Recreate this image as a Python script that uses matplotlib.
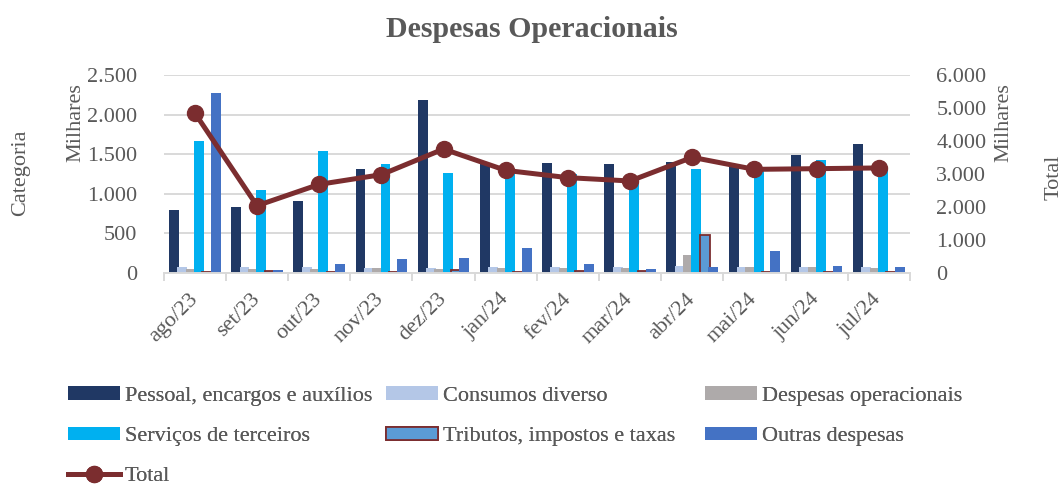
import numpy as np
import matplotlib.pyplot as plt
from matplotlib.ticker import FuncFormatter, FixedLocator
from matplotlib.lines import Line2D

# values in thousands (Milhares)
months = ["ago/23", "set/23", "out/23", "nov/23", "dez/23", "jan/24",
          "fev/24", "mar/24", "abr/24", "mai/24", "jun/24", "jul/24"]
pessoal = [800, 827, 903, 1318, 2192, 1390, 1394, 1377, 1400, 1380, 1495, 1630]
consumos = [76, 67, 76, 63, 55, 76, 67, 67, 80, 67, 67, 72]
desp_oper = [50, 42, 50, 55, 42, 55, 55, 55, 224, 67, 67, 55]
servicos = [1672, 1047, 1541, 1372, 1267, 1265, 1250, 1200, 1309, 1320, 1432, 1330]
tributos = [10, 25, 15, 15, 30, 15, 20, 20, 473, 5, 8, 15]
outras = [2272, 30, 109, 172, 185, 313, 105, 46, 67, 274, 92, 76]
total = [4853, 2037, 2684, 2979, 3757, 3110, 2888, 2787, 3505, 3140, 3161, 3183]

series = [
    ("Pessoal, encargos e auxílios", pessoal, "#203864", None),
    ("Consumos diverso", consumos, "#B4C7E7", None),
    ("Despesas operacionais", desp_oper, "#AEAAAA", None),
    ("Serviços de terceiros", servicos, "#00B0F0", None),
    ("Tributos, impostos e taxas", tributos, "#5B9BD5", "#7B2D2F"),
    ("Outras despesas", outras, "#4472C4", None),
]

FONT = "Liberation Serif"
GRAY = "#595959"
FS = 16
plt.rcParams["font.family"] = [FONT, "DejaVu Serif"]

fig = plt.figure(figsize=(10.63, 4.88), dpi=100)
ax = fig.add_axes([0.154, 0.441, 0.702, 0.405])

x = np.arange(len(months))
step = 0.134
width = 0.16
bars = []
for i, (name, vals, col, edge) in enumerate(series):
    off = (i - 2.5) * step
    if edge:
        b = ax.bar(x + off, vals, width, color=col, edgecolor=edge, linewidth=1.3, label=name, zorder=2)
    else:
        b = ax.bar(x + off, vals, width, color=col, label=name, zorder=2)
    bars.append(b)

ax.set_xlim(-0.5, len(months) - 0.5)
ax.set_ylim(0, 2500)
ax.set_yticks(range(0, 2501, 500))
fmt = FuncFormatter(lambda v, p: f"{int(v):,}".replace(",", "."))
ax.yaxis.set_major_formatter(fmt)
ax.grid(axis="y", color="#D9D9D9", linewidth=1.4, zorder=0)
ax.set_axisbelow(True)
for s in ["top", "right", "left"]:
    ax.spines[s].set_visible(False)
ax.spines["bottom"].set_color("#D9D9D9")
ax.spines["bottom"].set_linewidth(1.4)
ax.tick_params(axis="y", length=0, pad=19, labelsize=FS, labelcolor=GRAY)

ax.xaxis.set_major_locator(FixedLocator(np.arange(-0.5, len(months), 1.0)))
ax.xaxis.set_minor_locator(FixedLocator(x))
ax.set_xticklabels([], minor=False)
ax.set_xticklabels(months, minor=True, rotation=45, ha="right", va="center",
                   rotation_mode="anchor")
ax.tick_params(axis="x", which="major", length=6, width=1.4, color="#D9D9D9")
ax.tick_params(axis="x", which="minor", length=0, pad=17, labelsize=FS, labelcolor=GRAY)

ax2 = ax.twinx()
ax2.set_ylim(0, 6000)
ax2.set_yticks(range(0, 6001, 1000))
ax2.yaxis.set_major_formatter(fmt)
for s in ax2.spines.values():
    s.set_visible(False)
ax2.tick_params(axis="y", length=0, pad=19, labelsize=FS, labelcolor=GRAY)
line, = ax2.plot(x, total, color="#7B2D2F", linewidth=3.6, marker="o",
                 markersize=11.5, label="Total", zorder=3)

fig.text(0.5, 0.94, "Despesas Operacionais", ha="center", va="center",
         fontsize=21.5, fontweight="bold", color=GRAY)
fig.text(0.071, 0.748, "Milhares", rotation=90, ha="center", va="center", fontsize=FS, color=GRAY)
fig.text(0.019, 0.645, "Categoria", rotation=90, ha="center", va="center", fontsize=FS, color=GRAY)
fig.text(0.944, 0.748, "Milhares", rotation=90, ha="center", va="center", fontsize=FS, color=GRAY)
fig.text(0.992, 0.637, "Total", rotation=90, ha="center", va="center", fontsize=FS, color=GRAY)

tot_handle = Line2D([], [], color="#7B2D2F", linewidth=3.6, marker="o", markersize=11.5)
columns = [
    ([bars[0], bars[3], tot_handle], [series[0][0], series[3][0], "Total"], 68),
    ([bars[1], bars[4]], [series[1][0], series[4][0]], 386),
    ([bars[2], bars[5]], [series[2][0], series[5][0]], 705),
]
for hs, ls, px in columns:
    leg = fig.legend(hs, ls, loc="upper left", bbox_to_anchor=(px / 1063, 0.208),
                     frameon=False, fontsize=FS, labelcolor=GRAY, handlelength=2.35,
                     handleheight=0.55, handletextpad=0.2, labelspacing=0.93,
                     borderaxespad=0, borderpad=0)
    fig.add_artist(leg)

fig.savefig("out.png", dpi=100)
